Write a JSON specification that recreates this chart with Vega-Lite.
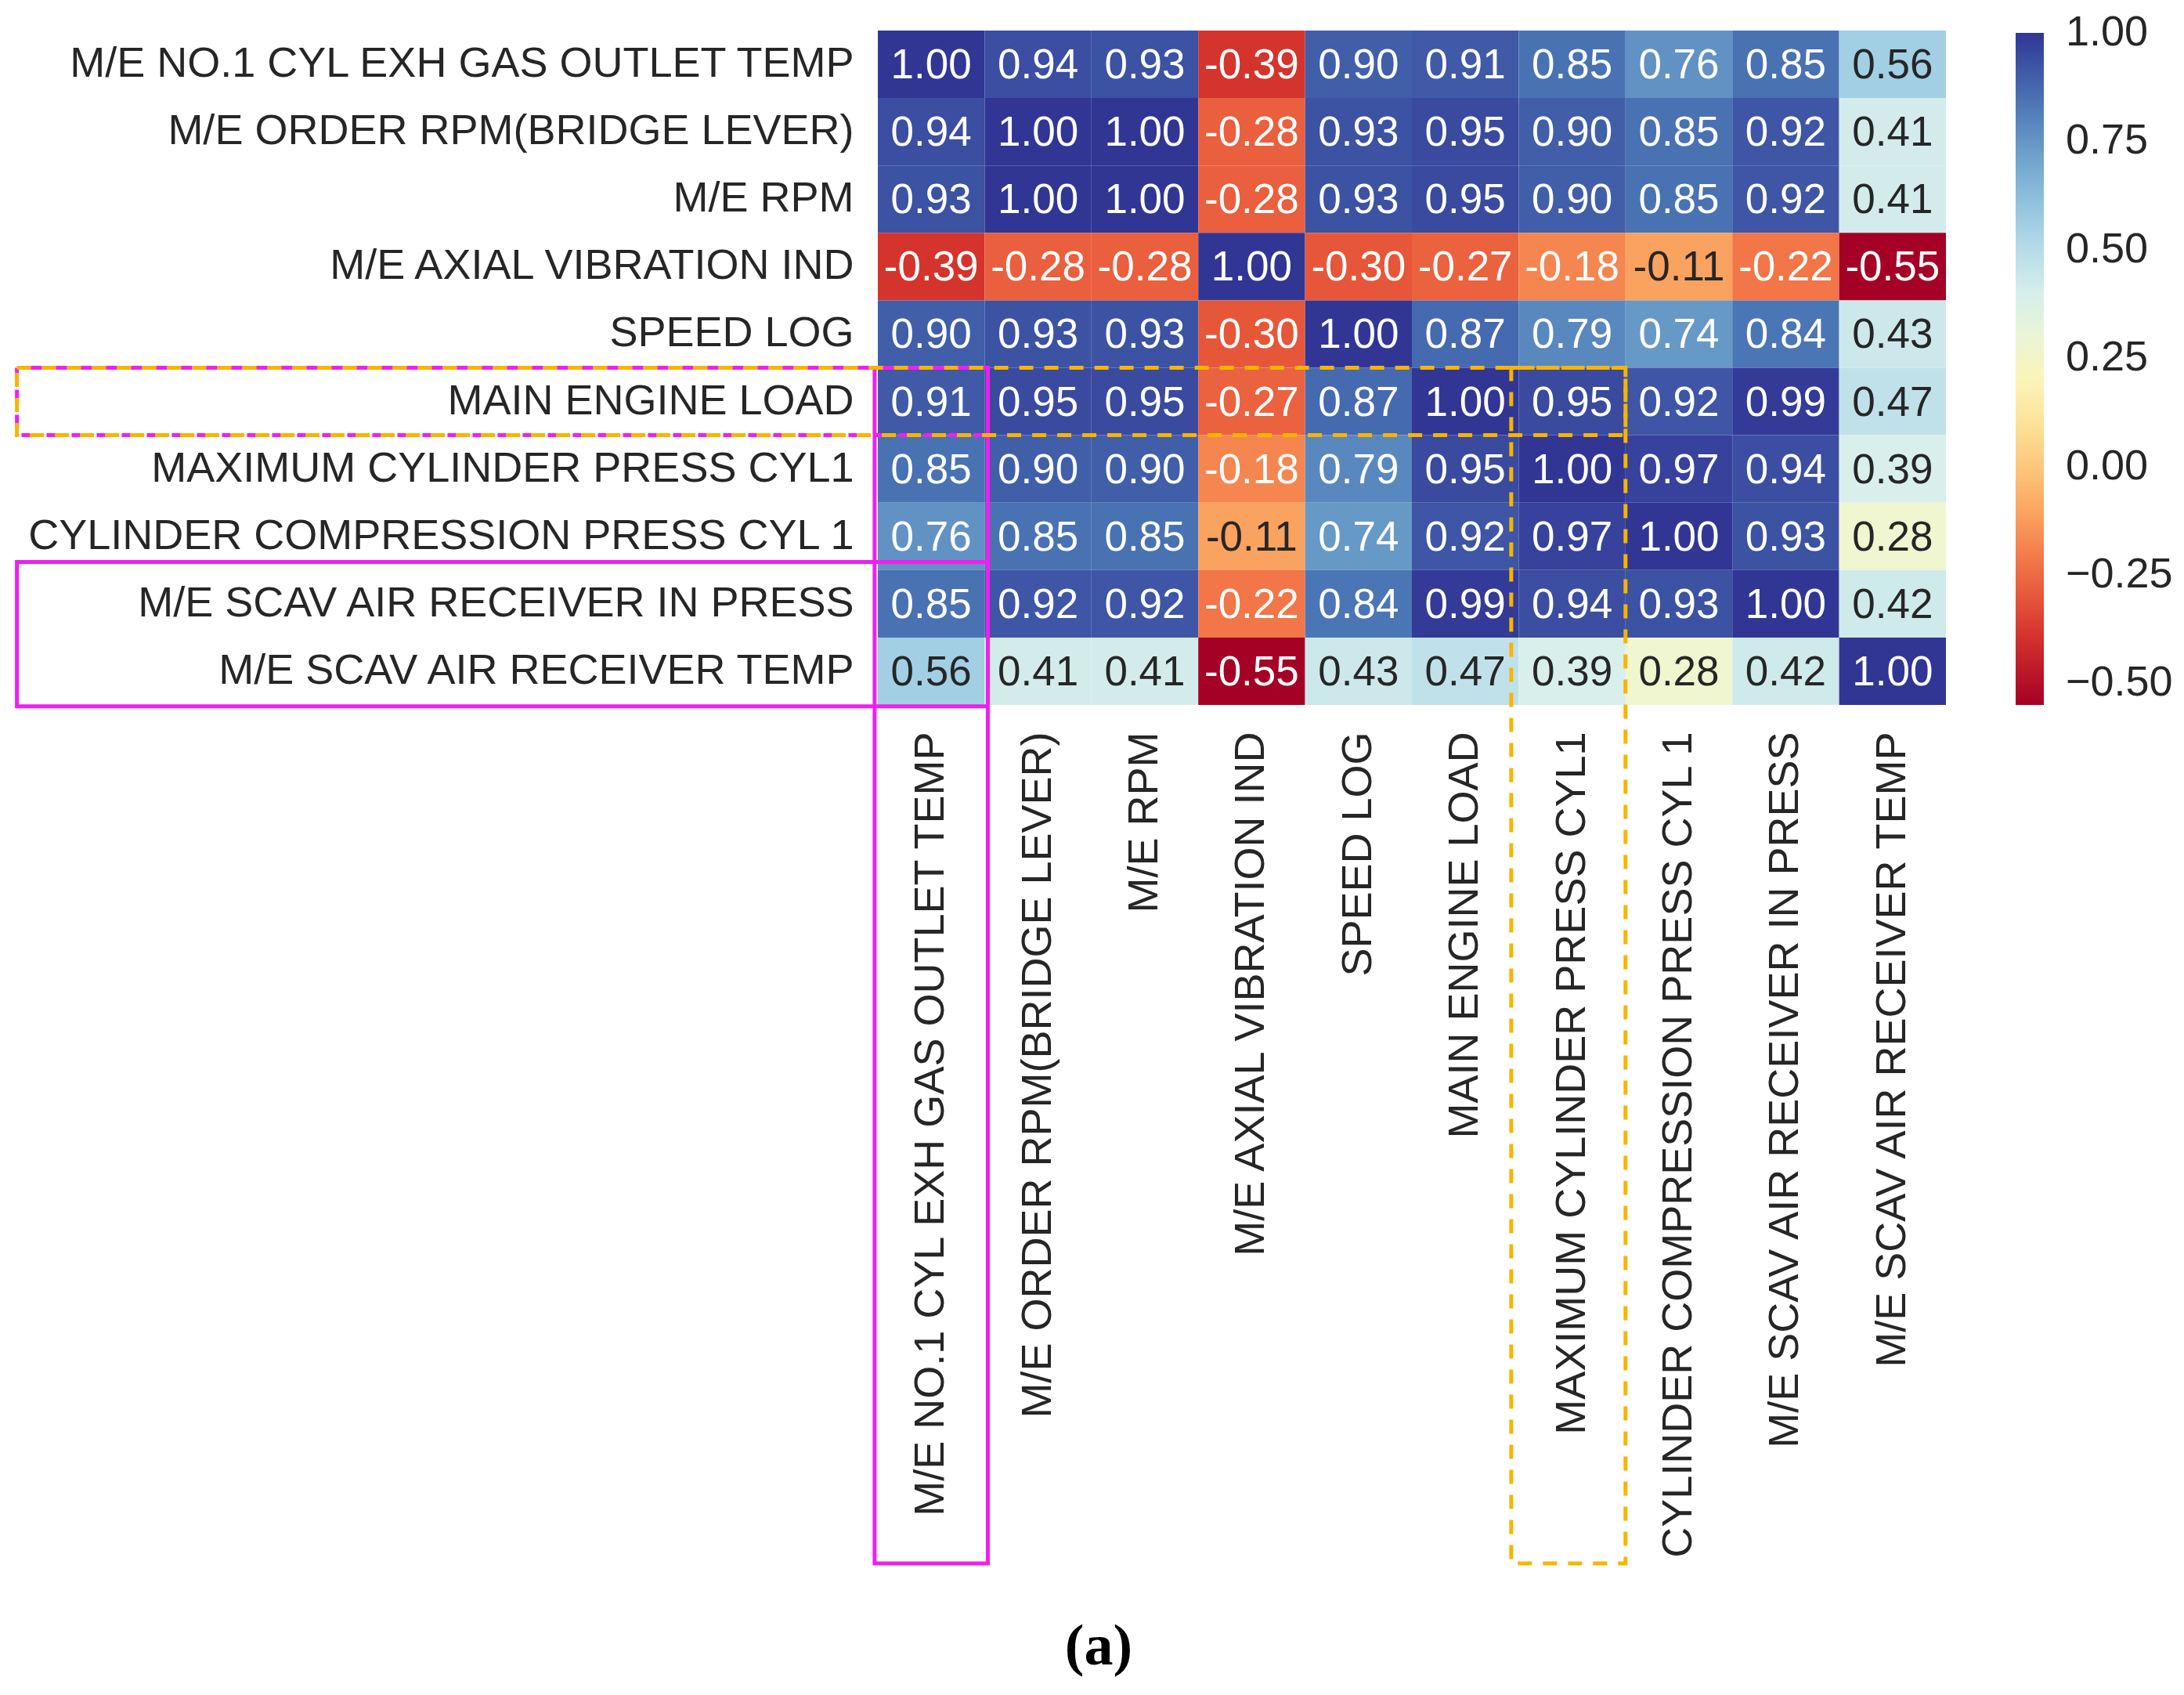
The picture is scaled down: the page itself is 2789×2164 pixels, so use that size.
{
  "$schema": "https://vega.github.io/schema/vega-lite/v6.json",
  "width": 1364,
  "height": 861,
  "autosize": "none",
  "padding": {"left": 1121, "top": 39, "right": 304, "bottom": 1264},
  "background": "white",
  "title": {"text": "(a)", "orient": "bottom", "anchor": "middle", "frame": "group", "dx": -400, "offset": 68, "font": "Liberation Serif", "fontSize": 74, "fontWeight": "bold", "color": "black"},
  "config": {
    "view": {"stroke": null},
    "locale": {"number": {"decimal": ".", "thousands": ",", "grouping": [3], "currency": ["$", ""], "minus": "-"}},
    "axis": {"labelFont": "Liberation Sans", "labelFontSize": 54, "labelColor": "#262626", "domain": false, "ticks": false, "grid": false, "title": null, "labelLimit": 1500}
  },
  "layer": [
    {
      "data": {"values": [
        {"row": "M/E NO.1 CYL EXH GAS OUTLET TEMP", "col": "M/E NO.1 CYL EXH GAS OUTLET TEMP", "r": 1.00},
        {"row": "M/E NO.1 CYL EXH GAS OUTLET TEMP", "col": "M/E ORDER RPM(BRIDGE LEVER)", "r": 0.94},
        {"row": "M/E NO.1 CYL EXH GAS OUTLET TEMP", "col": "M/E RPM", "r": 0.93},
        {"row": "M/E NO.1 CYL EXH GAS OUTLET TEMP", "col": "M/E AXIAL VIBRATION IND", "r": -0.39},
        {"row": "M/E NO.1 CYL EXH GAS OUTLET TEMP", "col": "SPEED LOG", "r": 0.90},
        {"row": "M/E NO.1 CYL EXH GAS OUTLET TEMP", "col": "MAIN ENGINE LOAD", "r": 0.91},
        {"row": "M/E NO.1 CYL EXH GAS OUTLET TEMP", "col": "MAXIMUM CYLINDER PRESS CYL1", "r": 0.85},
        {"row": "M/E NO.1 CYL EXH GAS OUTLET TEMP", "col": "CYLINDER COMPRESSION PRESS CYL 1", "r": 0.76},
        {"row": "M/E NO.1 CYL EXH GAS OUTLET TEMP", "col": "M/E SCAV AIR RECEIVER IN PRESS", "r": 0.85},
        {"row": "M/E NO.1 CYL EXH GAS OUTLET TEMP", "col": "M/E SCAV AIR RECEIVER TEMP", "r": 0.56},
        {"row": "M/E ORDER RPM(BRIDGE LEVER)", "col": "M/E NO.1 CYL EXH GAS OUTLET TEMP", "r": 0.94},
        {"row": "M/E ORDER RPM(BRIDGE LEVER)", "col": "M/E ORDER RPM(BRIDGE LEVER)", "r": 1.00},
        {"row": "M/E ORDER RPM(BRIDGE LEVER)", "col": "M/E RPM", "r": 1.00},
        {"row": "M/E ORDER RPM(BRIDGE LEVER)", "col": "M/E AXIAL VIBRATION IND", "r": -0.28},
        {"row": "M/E ORDER RPM(BRIDGE LEVER)", "col": "SPEED LOG", "r": 0.93},
        {"row": "M/E ORDER RPM(BRIDGE LEVER)", "col": "MAIN ENGINE LOAD", "r": 0.95},
        {"row": "M/E ORDER RPM(BRIDGE LEVER)", "col": "MAXIMUM CYLINDER PRESS CYL1", "r": 0.90},
        {"row": "M/E ORDER RPM(BRIDGE LEVER)", "col": "CYLINDER COMPRESSION PRESS CYL 1", "r": 0.85},
        {"row": "M/E ORDER RPM(BRIDGE LEVER)", "col": "M/E SCAV AIR RECEIVER IN PRESS", "r": 0.92},
        {"row": "M/E ORDER RPM(BRIDGE LEVER)", "col": "M/E SCAV AIR RECEIVER TEMP", "r": 0.41},
        {"row": "M/E RPM", "col": "M/E NO.1 CYL EXH GAS OUTLET TEMP", "r": 0.93},
        {"row": "M/E RPM", "col": "M/E ORDER RPM(BRIDGE LEVER)", "r": 1.00},
        {"row": "M/E RPM", "col": "M/E RPM", "r": 1.00},
        {"row": "M/E RPM", "col": "M/E AXIAL VIBRATION IND", "r": -0.28},
        {"row": "M/E RPM", "col": "SPEED LOG", "r": 0.93},
        {"row": "M/E RPM", "col": "MAIN ENGINE LOAD", "r": 0.95},
        {"row": "M/E RPM", "col": "MAXIMUM CYLINDER PRESS CYL1", "r": 0.90},
        {"row": "M/E RPM", "col": "CYLINDER COMPRESSION PRESS CYL 1", "r": 0.85},
        {"row": "M/E RPM", "col": "M/E SCAV AIR RECEIVER IN PRESS", "r": 0.92},
        {"row": "M/E RPM", "col": "M/E SCAV AIR RECEIVER TEMP", "r": 0.41},
        {"row": "M/E AXIAL VIBRATION IND", "col": "M/E NO.1 CYL EXH GAS OUTLET TEMP", "r": -0.39},
        {"row": "M/E AXIAL VIBRATION IND", "col": "M/E ORDER RPM(BRIDGE LEVER)", "r": -0.28},
        {"row": "M/E AXIAL VIBRATION IND", "col": "M/E RPM", "r": -0.28},
        {"row": "M/E AXIAL VIBRATION IND", "col": "M/E AXIAL VIBRATION IND", "r": 1.00},
        {"row": "M/E AXIAL VIBRATION IND", "col": "SPEED LOG", "r": -0.30},
        {"row": "M/E AXIAL VIBRATION IND", "col": "MAIN ENGINE LOAD", "r": -0.27},
        {"row": "M/E AXIAL VIBRATION IND", "col": "MAXIMUM CYLINDER PRESS CYL1", "r": -0.18},
        {"row": "M/E AXIAL VIBRATION IND", "col": "CYLINDER COMPRESSION PRESS CYL 1", "r": -0.11},
        {"row": "M/E AXIAL VIBRATION IND", "col": "M/E SCAV AIR RECEIVER IN PRESS", "r": -0.22},
        {"row": "M/E AXIAL VIBRATION IND", "col": "M/E SCAV AIR RECEIVER TEMP", "r": -0.55},
        {"row": "SPEED LOG", "col": "M/E NO.1 CYL EXH GAS OUTLET TEMP", "r": 0.90},
        {"row": "SPEED LOG", "col": "M/E ORDER RPM(BRIDGE LEVER)", "r": 0.93},
        {"row": "SPEED LOG", "col": "M/E RPM", "r": 0.93},
        {"row": "SPEED LOG", "col": "M/E AXIAL VIBRATION IND", "r": -0.30},
        {"row": "SPEED LOG", "col": "SPEED LOG", "r": 1.00},
        {"row": "SPEED LOG", "col": "MAIN ENGINE LOAD", "r": 0.87},
        {"row": "SPEED LOG", "col": "MAXIMUM CYLINDER PRESS CYL1", "r": 0.79},
        {"row": "SPEED LOG", "col": "CYLINDER COMPRESSION PRESS CYL 1", "r": 0.74},
        {"row": "SPEED LOG", "col": "M/E SCAV AIR RECEIVER IN PRESS", "r": 0.84},
        {"row": "SPEED LOG", "col": "M/E SCAV AIR RECEIVER TEMP", "r": 0.43},
        {"row": "MAIN ENGINE LOAD", "col": "M/E NO.1 CYL EXH GAS OUTLET TEMP", "r": 0.91},
        {"row": "MAIN ENGINE LOAD", "col": "M/E ORDER RPM(BRIDGE LEVER)", "r": 0.95},
        {"row": "MAIN ENGINE LOAD", "col": "M/E RPM", "r": 0.95},
        {"row": "MAIN ENGINE LOAD", "col": "M/E AXIAL VIBRATION IND", "r": -0.27},
        {"row": "MAIN ENGINE LOAD", "col": "SPEED LOG", "r": 0.87},
        {"row": "MAIN ENGINE LOAD", "col": "MAIN ENGINE LOAD", "r": 1.00},
        {"row": "MAIN ENGINE LOAD", "col": "MAXIMUM CYLINDER PRESS CYL1", "r": 0.95},
        {"row": "MAIN ENGINE LOAD", "col": "CYLINDER COMPRESSION PRESS CYL 1", "r": 0.92},
        {"row": "MAIN ENGINE LOAD", "col": "M/E SCAV AIR RECEIVER IN PRESS", "r": 0.99},
        {"row": "MAIN ENGINE LOAD", "col": "M/E SCAV AIR RECEIVER TEMP", "r": 0.47},
        {"row": "MAXIMUM CYLINDER PRESS CYL1", "col": "M/E NO.1 CYL EXH GAS OUTLET TEMP", "r": 0.85},
        {"row": "MAXIMUM CYLINDER PRESS CYL1", "col": "M/E ORDER RPM(BRIDGE LEVER)", "r": 0.90},
        {"row": "MAXIMUM CYLINDER PRESS CYL1", "col": "M/E RPM", "r": 0.90},
        {"row": "MAXIMUM CYLINDER PRESS CYL1", "col": "M/E AXIAL VIBRATION IND", "r": -0.18},
        {"row": "MAXIMUM CYLINDER PRESS CYL1", "col": "SPEED LOG", "r": 0.79},
        {"row": "MAXIMUM CYLINDER PRESS CYL1", "col": "MAIN ENGINE LOAD", "r": 0.95},
        {"row": "MAXIMUM CYLINDER PRESS CYL1", "col": "MAXIMUM CYLINDER PRESS CYL1", "r": 1.00},
        {"row": "MAXIMUM CYLINDER PRESS CYL1", "col": "CYLINDER COMPRESSION PRESS CYL 1", "r": 0.97},
        {"row": "MAXIMUM CYLINDER PRESS CYL1", "col": "M/E SCAV AIR RECEIVER IN PRESS", "r": 0.94},
        {"row": "MAXIMUM CYLINDER PRESS CYL1", "col": "M/E SCAV AIR RECEIVER TEMP", "r": 0.39},
        {"row": "CYLINDER COMPRESSION PRESS CYL 1", "col": "M/E NO.1 CYL EXH GAS OUTLET TEMP", "r": 0.76},
        {"row": "CYLINDER COMPRESSION PRESS CYL 1", "col": "M/E ORDER RPM(BRIDGE LEVER)", "r": 0.85},
        {"row": "CYLINDER COMPRESSION PRESS CYL 1", "col": "M/E RPM", "r": 0.85},
        {"row": "CYLINDER COMPRESSION PRESS CYL 1", "col": "M/E AXIAL VIBRATION IND", "r": -0.11},
        {"row": "CYLINDER COMPRESSION PRESS CYL 1", "col": "SPEED LOG", "r": 0.74},
        {"row": "CYLINDER COMPRESSION PRESS CYL 1", "col": "MAIN ENGINE LOAD", "r": 0.92},
        {"row": "CYLINDER COMPRESSION PRESS CYL 1", "col": "MAXIMUM CYLINDER PRESS CYL1", "r": 0.97},
        {"row": "CYLINDER COMPRESSION PRESS CYL 1", "col": "CYLINDER COMPRESSION PRESS CYL 1", "r": 1.00},
        {"row": "CYLINDER COMPRESSION PRESS CYL 1", "col": "M/E SCAV AIR RECEIVER IN PRESS", "r": 0.93},
        {"row": "CYLINDER COMPRESSION PRESS CYL 1", "col": "M/E SCAV AIR RECEIVER TEMP", "r": 0.28},
        {"row": "M/E SCAV AIR RECEIVER IN PRESS", "col": "M/E NO.1 CYL EXH GAS OUTLET TEMP", "r": 0.85},
        {"row": "M/E SCAV AIR RECEIVER IN PRESS", "col": "M/E ORDER RPM(BRIDGE LEVER)", "r": 0.92},
        {"row": "M/E SCAV AIR RECEIVER IN PRESS", "col": "M/E RPM", "r": 0.92},
        {"row": "M/E SCAV AIR RECEIVER IN PRESS", "col": "M/E AXIAL VIBRATION IND", "r": -0.22},
        {"row": "M/E SCAV AIR RECEIVER IN PRESS", "col": "SPEED LOG", "r": 0.84},
        {"row": "M/E SCAV AIR RECEIVER IN PRESS", "col": "MAIN ENGINE LOAD", "r": 0.99},
        {"row": "M/E SCAV AIR RECEIVER IN PRESS", "col": "MAXIMUM CYLINDER PRESS CYL1", "r": 0.94},
        {"row": "M/E SCAV AIR RECEIVER IN PRESS", "col": "CYLINDER COMPRESSION PRESS CYL 1", "r": 0.93},
        {"row": "M/E SCAV AIR RECEIVER IN PRESS", "col": "M/E SCAV AIR RECEIVER IN PRESS", "r": 1.00},
        {"row": "M/E SCAV AIR RECEIVER IN PRESS", "col": "M/E SCAV AIR RECEIVER TEMP", "r": 0.42},
        {"row": "M/E SCAV AIR RECEIVER TEMP", "col": "M/E NO.1 CYL EXH GAS OUTLET TEMP", "r": 0.56},
        {"row": "M/E SCAV AIR RECEIVER TEMP", "col": "M/E ORDER RPM(BRIDGE LEVER)", "r": 0.41},
        {"row": "M/E SCAV AIR RECEIVER TEMP", "col": "M/E RPM", "r": 0.41},
        {"row": "M/E SCAV AIR RECEIVER TEMP", "col": "M/E AXIAL VIBRATION IND", "r": -0.55},
        {"row": "M/E SCAV AIR RECEIVER TEMP", "col": "SPEED LOG", "r": 0.43},
        {"row": "M/E SCAV AIR RECEIVER TEMP", "col": "MAIN ENGINE LOAD", "r": 0.47},
        {"row": "M/E SCAV AIR RECEIVER TEMP", "col": "MAXIMUM CYLINDER PRESS CYL1", "r": 0.39},
        {"row": "M/E SCAV AIR RECEIVER TEMP", "col": "CYLINDER COMPRESSION PRESS CYL 1", "r": 0.28},
        {"row": "M/E SCAV AIR RECEIVER TEMP", "col": "M/E SCAV AIR RECEIVER IN PRESS", "r": 0.42},
        {"row": "M/E SCAV AIR RECEIVER TEMP", "col": "M/E SCAV AIR RECEIVER TEMP", "r": 1.00}
      ]},
      "encoding": {
        "x": {"field": "col", "type": "nominal", "sort": ["M/E NO.1 CYL EXH GAS OUTLET TEMP", "M/E ORDER RPM(BRIDGE LEVER)", "M/E RPM", "M/E AXIAL VIBRATION IND", "SPEED LOG", "MAIN ENGINE LOAD", "MAXIMUM CYLINDER PRESS CYL1", "CYLINDER COMPRESSION PRESS CYL 1", "M/E SCAV AIR RECEIVER IN PRESS", "M/E SCAV AIR RECEIVER TEMP"], "scale": {"paddingInner": 0, "paddingOuter": 0}, "axis": {"orient": "bottom", "labelAngle": -90, "labelPadding": 34}},
        "y": {"field": "row", "type": "nominal", "sort": ["M/E NO.1 CYL EXH GAS OUTLET TEMP", "M/E ORDER RPM(BRIDGE LEVER)", "M/E RPM", "M/E AXIAL VIBRATION IND", "SPEED LOG", "MAIN ENGINE LOAD", "MAXIMUM CYLINDER PRESS CYL1", "CYLINDER COMPRESSION PRESS CYL 1", "M/E SCAV AIR RECEIVER IN PRESS", "M/E SCAV AIR RECEIVER TEMP"], "scale": {"paddingInner": 0, "paddingOuter": 0}, "axis": {"labelPadding": 31}}
      },
      "layer": [
        {
          "mark": {"type": "rect", "strokeWidth": 0},
          "encoding": {
            "color": {"field": "r", "type": "quantitative", "scale": {"scheme": "redyellowblue", "domain": [-0.55, 1.0], "nice": false, "zero": false},
              "legend": {"orient": "none", "legendX": 1453, "legendY": 3, "direction": "vertical", "title": null, "gradientLength": 858, "gradientThickness": 36, "gradientStrokeWidth": 0, "values": [-0.5, -0.25, 0, 0.25, 0.5, 0.75, 1.0], "format": ".2f", "labelExpr": "replace(datum.label, '-', '\u2212')", "labelFont": "Liberation Sans", "labelFontSize": 54, "labelColor": "#262626", "labelOffset": 28, "labelOverlap": false, "padding": 0,
                "encode": {"labels": {"update": {"baseline": {"value": "middle"}}}}}}
          }
        },
        {
          "mark": {"type": "text", "font": "Liberation Sans", "fontSize": 53, "align": "center", "baseline": "middle", "dy": 2},
          "encoding": {
            "text": {"field": "r", "type": "quantitative", "format": ".2f"},
            "color": {"condition": {"test": "datum.r > -0.15 && datum.r < 0.66", "value": "#262626"}, "value": "#ffffff"}
          }
        }
      ]
    },
    {
      "data": {"values": [
        {"kind": "magenta", "style": "solid", "x0": -0.03, "x1": 1.03, "y0": 5.0, "y1": 22.73},
        {"kind": "magenta", "style": "solid", "x0": -8.06, "x1": 1.03, "y0": 7.88, "y1": 10.02},
        {"kind": "magenta", "style": "dashed", "x0": -8.06, "x1": 1.03, "y0": 5.0, "y1": 6.0},
        {"kind": "orange", "style": "dashed", "x0": -8.06, "x1": 7.0, "y0": 5.0, "y1": 6.0},
        {"kind": "orange", "style": "dashed", "x0": 5.93, "x1": 7.0, "y0": 5.0, "y1": 22.73}
      ]},
      "encoding": {
        "x": {"field": "x0", "type": "quantitative", "scale": {"domain": [0, 10], "nice": false, "zero": false}, "axis": null},
        "x2": {"field": "x1"},
        "y": {"field": "y0", "type": "quantitative", "scale": {"domain": [0, 10], "nice": false, "zero": false, "reverse": true}, "axis": null},
        "y2": {"field": "y1"},
        "color": {"field": "kind", "type": "nominal", "scale": {"domain": ["magenta", "orange"], "range": ["#f01ff0", "#f7b500"]}, "legend": null}
      },
      "layer": [
        {
          "transform": [{"filter": "datum.style == 'solid'"}],
          "mark": {"type": "rect", "filled": false, "strokeWidth": 5}
        },
        {
          "transform": [{"filter": "datum.style == 'dashed' && datum.kind == 'magenta'"}],
          "mark": {"type": "rect", "filled": false, "strokeWidth": 5, "strokeDash": [16, 16], "strokeDashOffset": 16}
        },
        {
          "transform": [{"filter": "datum.style == 'dashed' && datum.kind == 'orange'"}],
          "mark": {"type": "rect", "filled": false, "strokeWidth": 5, "strokeDash": [18, 14]}
        }
      ]
    }
  ],
  "resolve": {"scale": {"x": "independent", "y": "independent", "color": "independent"}, "axis": {"x": "independent", "y": "independent"}}
}
